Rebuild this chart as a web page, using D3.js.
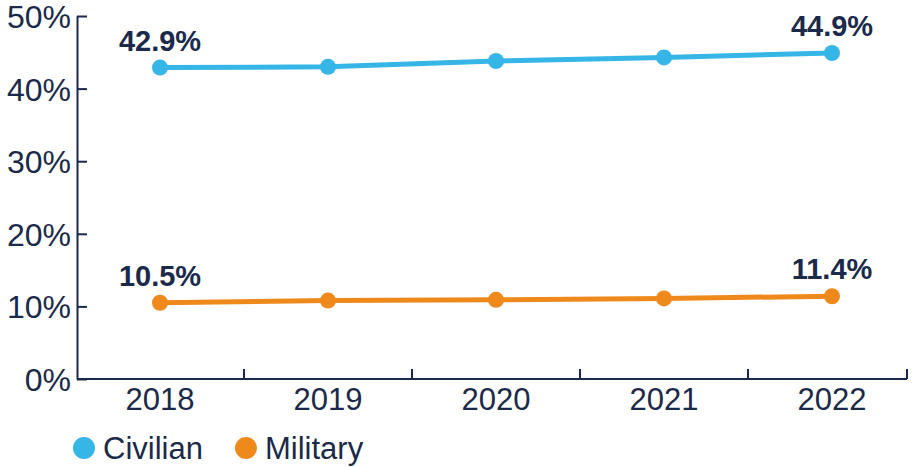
<!DOCTYPE html>
<html>
<head>
<meta charset="utf-8">
<script src="https://cdn.jsdelivr.net/npm/d3@7"></script>
<style>
  html, body { margin: 0; padding: 0; background: #fff; }
  svg { display: block; font-family: "Liberation Sans", Arial, Helvetica, sans-serif; }
</style>
</head>
<body>
<svg id="chart" width="913" height="467"></svg>
<script>
const years = ["2018", "2019", "2020", "2021", "2022"];
const civilian = [42.9, 43.0, 43.8, 44.3, 44.9];
const military = [10.5, 10.8, 10.9, 11.1, 11.4];
const yTicks = [0, 10, 20, 30, 40, 50];
const seriesNames = ["Civilian", "Military"];

const navy = "#1b2a4a";
const colors = { Civilian: "#35b6e6", Military: "#f0891c" };

const svg = d3.select("#chart");
const plotLeft = 77, plotRight = 907, plotTop = 16, plotBottom = 379;

const x = d3.scaleBand().domain(years).range([76, 916]).padding(0);
const y = d3.scaleLinear().domain([0, 50]).range([plotBottom, plotTop]);

// Y axis
const yAxis = svg.append("g")
  .attr("transform", `translate(${plotLeft},0)`)
  .call(d3.axisLeft(y).tickValues(yTicks).tickFormat(d => d + "%").tickSizeInner(-10).tickSizeOuter(0).tickPadding(6));
yAxis.select(".domain").attr("stroke", navy).attr("stroke-width", 2);
yAxis.selectAll(".tick line").attr("stroke", navy).attr("stroke-width", 2);
yAxis.selectAll(".tick text")
  .attr("fill", navy).attr("font-size", 32).attr("x", -6).attr("dy", "0.36em");

// X axis labels
const xAxis = svg.append("g")
  .attr("transform", `translate(0,${plotBottom})`)
  .call(d3.axisBottom(x).tickSize(0).tickPadding(0));
xAxis.select(".domain").remove();
xAxis.selectAll(".tick text")
  .attr("fill", navy).attr("font-size", 31).attr("y", 31).attr("dy", 0);

// X axis baseline and boundary ticks
svg.append("line")
  .attr("x1", plotLeft).attr("x2", plotRight)
  .attr("y1", plotBottom).attr("y2", plotBottom)
  .attr("stroke", navy).attr("stroke-width", 2);
const bounds = years.slice(0, -1).map(d => x(d) + x.bandwidth());
bounds.push(plotRight);
svg.selectAll(".xb").data(bounds).enter().append("line")
  .attr("x1", d => d).attr("x2", d => d)
  .attr("y1", plotBottom).attr("y2", plotBottom - 10)
  .attr("stroke", navy).attr("stroke-width", 2);

// Lines
const series = [
  { name: "Civilian", values: civilian },
  { name: "Military", values: military }
];
const line = d3.line()
  .x((d, i) => x(years[i]) + x.bandwidth() / 2)
  .y(d => y(d));

series.forEach(s => {
  svg.append("path")
    .datum(s.values)
    .attr("fill", "none")
    .attr("stroke", colors[s.name])
    .attr("stroke-width", 5)
    .attr("d", line);
  svg.selectAll(".pt-" + s.name).data(s.values).enter().append("circle")
    .attr("cx", (d, i) => x(years[i]) + x.bandwidth() / 2)
    .attr("cy", d => y(d))
    .attr("r", 8)
    .attr("fill", colors[s.name]);
  // end labels
  [0, s.values.length - 1].forEach(i => {
    svg.append("text")
      .attr("x", x(years[i]) + x.bandwidth() / 2)
      .attr("y", y(s.values[i]) - 17)
      .attr("text-anchor", "middle")
      .attr("font-size", 29)
      .attr("font-weight", "bold")
      .attr("fill", navy)
      .text(s.values[i].toFixed(1) + "%");
  });
});

// Legend
const legendPos = [84, 246];
seriesNames.forEach((n, i) => {
  const g = svg.append("g").attr("transform", `translate(${legendPos[i]},448)`);
  g.append("circle").attr("r", 11).attr("fill", colors[n]);
  g.append("text").attr("x", 19).attr("dy", "0.36em")
    .attr("font-size", 31).attr("fill", navy).text(n);
});
</script>
</body>
</html>
